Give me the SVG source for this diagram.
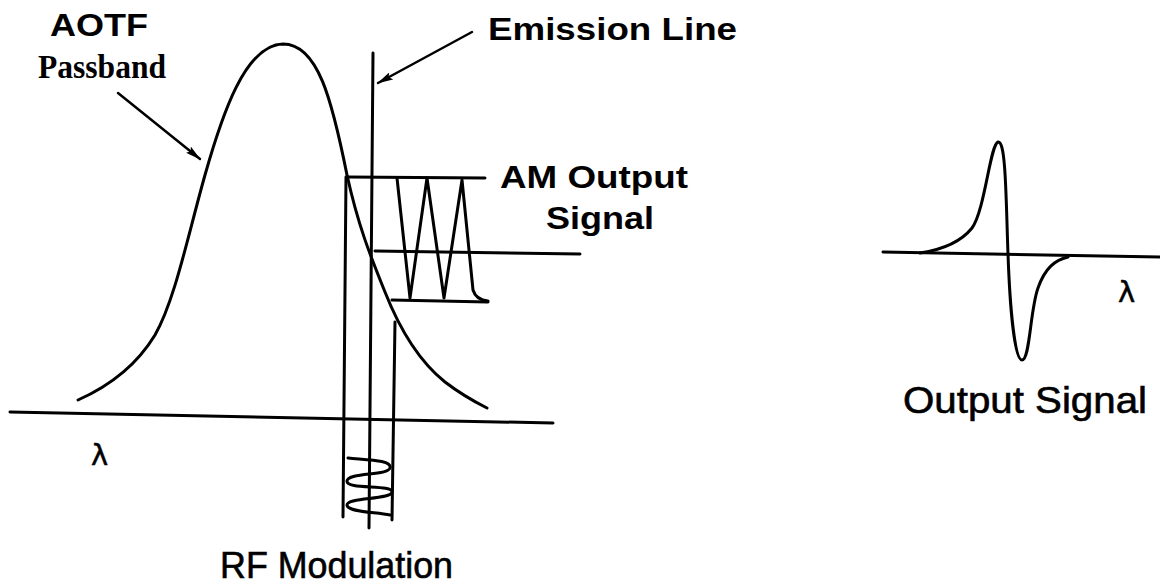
<svg xmlns="http://www.w3.org/2000/svg" width="1160" height="587" viewBox="0 0 1160 587">
  <defs>
    <marker id="ah" viewBox="0 0 16 8" refX="15" refY="4" markerWidth="16" markerHeight="8" markerUnits="userSpaceOnUse" orient="auto">
      <path d="M0,0 L16,4 L0,8 L3,4 Z" fill="#000"/>
    </marker>
  </defs>
  <style>
    .ln { fill: none; stroke: #000; stroke-width: 3; stroke-linecap: round; stroke-linejoin: round; }
    .thin { fill: none; stroke: #000; stroke-width: 2.5; stroke-linecap: round; }
    .lb { font-family: "Liberation Sans", Arial, sans-serif; font-weight: bold; font-size: 32px; fill: #000; }
    .lr { font-family: "Liberation Sans", Arial, sans-serif; font-size: 37px; fill: #000; stroke: #000; stroke-width: 0.6; }
    .ls { font-family: "Liberation Serif", "Times New Roman", serif; font-weight: bold; font-size: 33px; fill: #000; }
    .lam { font-family: "DejaVu Sans", sans-serif; font-size: 29px; fill: #000; stroke: #000; stroke-width: 0.5; }
  </style>
  <rect width="1160" height="587" fill="#fff"/>

  <g id="left-axis">
    <path class="ln" d="M10,412 L553,423"/>
    <text class="lam" x="91" y="465">λ</text>
  </g>

  <g id="aotf-passband">
    <path class="ln" d="M78,400 C105,388 135,368 155,335 C175,300 188,235 205,175 C222,115 245,45 283,44 C318,44 332,100 347,175 C358,225 370,255 385,292 C400,330 420,362 445,382 C462,395 475,402 487,408"/>
    <text class="lb" x="50" y="36" textLength="98" lengthAdjust="spacingAndGlyphs">AOTF</text>
    <text class="ls" x="38" y="78" textLength="128" lengthAdjust="spacingAndGlyphs">Passband</text>
  </g>

  <g id="emission-line">
    <path class="ln" d="M373,53 L369,528"/>
    <text class="lb" x="488" y="40" textLength="249" lengthAdjust="spacingAndGlyphs">Emission Line</text>
  </g>

  <g id="modulation-bounds">
    <path class="ln" d="M346,177 L343,517"/>
    <path class="ln" d="M395,322 L392,520"/>
  </g>

  <g id="am-output-signal">
    <path class="ln" d="M348,177 L485,178"/>
    <path class="ln" d="M375,251 L580,254"/>
    <path class="ln" d="M392,300 L488,302"/>
    <path class="ln" d="M397,178 L410,298 L427,178 L444,298 L462,180 L473,290 Q476,300 488,301"/>
    <text class="lb" x="500" y="188" textLength="188" lengthAdjust="spacingAndGlyphs">AM Output</text>
    <text class="lb" x="546" y="229" textLength="108" lengthAdjust="spacingAndGlyphs">Signal</text>
  </g>

  <g id="rf-modulation">
    <path class="ln" d="M348,458 C370,460 392,460 390,468 C388,476 348,472 347,481 C346,490 393,484 392,492 C391,500 347,497 347,505 C347,512 375,512 390,515"/>
    <text class="lr" x="220" y="578" textLength="233" lengthAdjust="spacingAndGlyphs">RF Modulation</text>
  </g>

  <g id="output-signal">
    <path class="ln" d="M883,252 L1160,257"/>
    <path class="ln" d="M920,253 C940,250 960,243 972,228 C985,210 990,145 998,142 C1006,140 1006,200 1008,254 C1010,310 1015,360 1022,360 C1030,360 1030,310 1038,288 C1045,268 1055,260 1068,257"/>
    <text class="lam" x="1118" y="302">λ</text>
    <text class="lr" x="903" y="413" textLength="244" lengthAdjust="spacingAndGlyphs">Output Signal</text>
  </g>

  <g id="connectors">
    <path class="thin" d="M118,93 L200,159" marker-end="url(#ah)"/>
    <path class="thin" d="M472,32 L378,83" marker-end="url(#ah)"/>
  </g>
</svg>
